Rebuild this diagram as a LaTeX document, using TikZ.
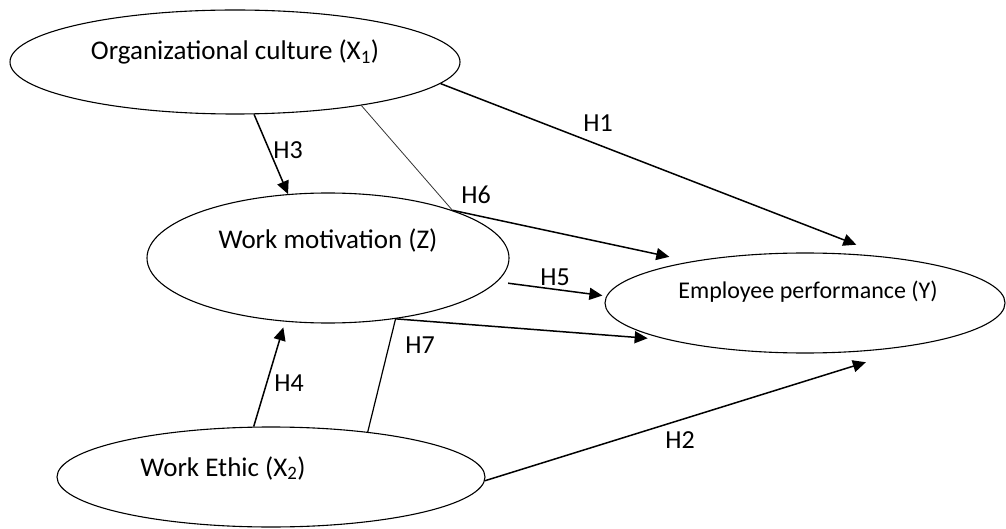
\documentclass[tikz,border=0pt]{standalone}
\usepackage{fontspec}
\setmainfont{Carlito}
\usetikzlibrary{shapes.geometric,arrows.meta,positioning}

\begin{document}
\begin{tikzpicture}[x=1pt, y=1pt, font=\fontsize{26}{30}\selectfont,
    construct/.style={draw, ellipse, line width=1.1pt, inner sep=0pt},
    bigtext/.style={font=\fontsize{27}{31}\selectfont},
    hyp/.style={-{Triangle[length=13pt,width=12pt]}, line width=1.5pt},
    link/.style={line width=1.2pt},
    thinlink/.style={line width=0.8pt, black!80}]
    \useasboundingbox (0,0) rectangle (1006,528);

    % --- Constructs ---
    \node[construct, minimum width=450, minimum height=104,
          label={[bigtext, yshift=10pt]center:Organizational culture (X\textsubscript{1})}] (oc) at (235,466) {};
    \node[construct, minimum width=362, minimum height=130,
          label={[bigtext, yshift=18pt]center:Work motivation (Z)}] (wm) at (328,270) {};
    \node[construct, minimum width=400, minimum height=100,
          label={[font=\fontsize{24}{28}\selectfont, xshift=3pt, yshift=11pt]center:Employee performance (Y)}] (ep) at (805,225) {};
    \node[construct, minimum width=428, minimum height=100,
          label={[bigtext, xshift=-48pt, yshift=9pt]center:Work Ethic (X\textsubscript{2})}] (we) at (271,51) {};

    % --- Direct effects ---
    \draw[hyp, shorten >=34pt] (oc.-6) -- (ep.29);
    \draw[hyp, shorten >=65pt] (we.-1) -- (ep.-18);
    \draw[hyp] (oc.-70) -- (wm.122);
    \draw[hyp, shorten >=6pt] (we.109) -- (wm.236);
    \draw[hyp, shorten <=11pt, shorten >=4pt] (wm.-8) -- (ep.178);

    % --- Mediated effects ---
    \draw[thinlink] (oc.-19) -- (wm.21);
    \draw[hyp, shorten >=22pt] (wm.21) -- (ep.160);
    \draw[link] (we.25) -- (wm.-42);
    \draw[hyp, shorten >=20pt] (wm.-42) -- (ep.195);

    % --- Hypothesis labels ---
    \node (h1) at (598,405) {H1};
    \node (h2) at (680,88) {H2};
    \node (h3) at (288,378) {H3};
    \node (h4) at (289,145) {H4};
    \node (h5) at (555,251) {H5};
    \node (h6) at (476,333) {H6};
    \node (h7) at (420,183) {H7};
\end{tikzpicture}
\end{document}
